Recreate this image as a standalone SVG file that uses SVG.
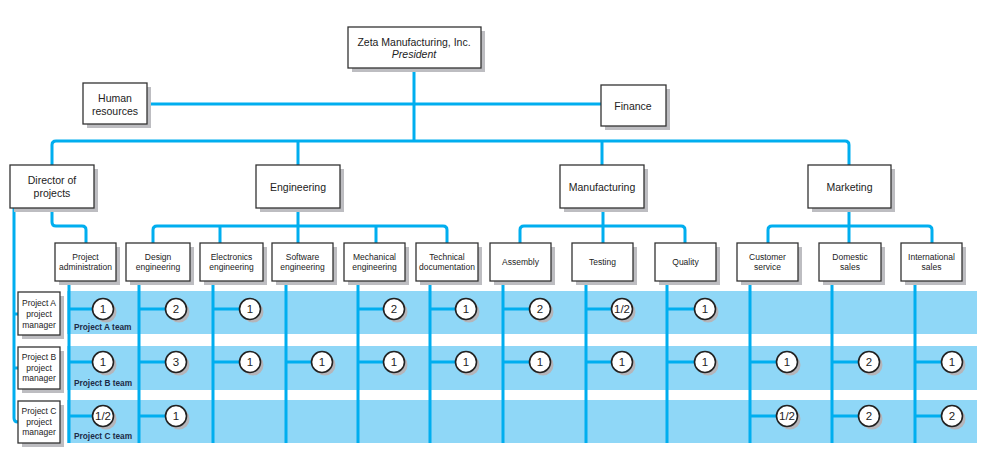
<svg xmlns="http://www.w3.org/2000/svg" width="985" height="469" viewBox="0 0 985 469">
<style>
.bx{fill:#fff;stroke:#333;stroke-width:1.3}
.sh{fill:#bdbdc1}
.ln{fill:none;stroke:#00aeef;stroke-width:3;stroke-linejoin:round}
.band{fill:#8fd7f7}
.t1{font-family:"Liberation Sans",Arial,sans-serif;font-size:10.5px;fill:#222;text-anchor:middle}
.t2{font-family:"Liberation Sans",Arial,sans-serif;font-size:8.5px;fill:#222;text-anchor:middle}
.tm{font-family:"Liberation Sans",Arial,sans-serif;font-size:8.3px;font-weight:bold;fill:#1d2b45}
.cs{fill:#b5b5ba}
.cc{fill:#fff;stroke:#222;stroke-width:1.6}
.ct{font-family:"Liberation Sans",Arial,sans-serif;font-size:11.5px;fill:#222;text-anchor:middle}
</style>
<rect width="985" height="469" fill="#fff"/>
<g id="bands">
<rect class="band" x="67" y="291" width="910" height="43"/>
<rect class="band" x="67" y="346" width="910" height="44"/>
<rect class="band" x="67" y="400" width="910" height="43"/>
</g>
<g id="connectors">
<path class="ln" d="M414 68V141"/>
<path class="ln" d="M147 104H601"/>
<path class="ln" d="M52 165V145Q52 141 56 141H845Q849 141 849 145V165"/>
<path class="ln" d="M298 141V165M602 141V165"/>
<path class="ln" d="M52 208V222Q52 226 56 226H82Q86 226 86 230V243"/>
<path class="ln" d="M14 208V418Q14 422 18 422"/>
<path class="ln" d="M14 314H18M14 368H18"/>
<path class="ln" d="M298 208V243M153 243V230Q153 226 157 226H443Q447 226 447 230V243M220 226V243M376 226V243"/>
<path class="ln" d="M603 208V243M520 243V230Q520 226 524 226H681Q685 226 685 230V243"/>
<path class="ln" d="M849 208V243M768 243V230Q768 226 772 226H928Q932 226 932 230V243"/>
<path class="ln" d="M69 281V443M139 281V443M213 281V443M286 281V443M358 281V443M430 281V443M503 281V443M586 281V443M667 281V443M750 281V443M832 281V443M915 281V443"/>
<path class="ln" d="M69 309H93M139 309H166M213 309H240M358 309H384M430 309H456M503 309H530M586 309H612M667 309H695"/>
<path class="ln" d="M69 362H93M139 362H166M213 362H240M286 362H312M358 362H384M430 362H456M503 362H530M586 362H612M667 362H695M750 362H777M832 362H859M915 362H942"/>
<path class="ln" d="M69 416H93M139 416H166M750 416H777M832 416H859M915 416H942"/>
</g>
<g id="president">
<rect class="sh" x="352" y="31" width="133" height="41"/>
<rect class="bx" x="348" y="27" width="133" height="41"/>
<text class="t1" x="414" y="46">Zeta Manufacturing, Inc.</text>
<text class="t1" x="414" y="58" font-style="italic">President</text>
</g>
<g id="hr">
<rect class="sh" x="87" y="87" width="64" height="41"/>
<rect class="bx" x="83" y="83" width="64" height="41"/>
<text class="t1" x="115" y="102">Human</text>
<text class="t1" x="115" y="115">resources</text>
</g>
<g id="finance">
<rect class="sh" x="605" y="89" width="65" height="41"/>
<rect class="bx" x="601" y="85" width="65" height="41"/>
<text class="t1" x="633" y="110">Finance</text>
</g>
<g id="director">
<rect class="sh" x="14" y="169" width="84" height="43"/>
<rect class="bx" x="10" y="165" width="84" height="43"/>
<text class="t1" x="52" y="184">Director of</text>
<text class="t1" x="52" y="197">projects</text>
</g>
<g id="engineering">
<rect class="sh" x="260" y="169" width="84" height="43"/>
<rect class="bx" x="256" y="165" width="84" height="43"/>
<text class="t1" x="298" y="191">Engineering</text>
</g>
<g id="manufacturing">
<rect class="sh" x="564" y="169" width="84" height="43"/>
<rect class="bx" x="560" y="165" width="84" height="43"/>
<text class="t1" x="602" y="191">Manufacturing</text>
</g>
<g id="marketing">
<rect class="sh" x="812" y="169" width="83" height="43"/>
<rect class="bx" x="808" y="165" width="83" height="43"/>
<text class="t1" x="849.5" y="191">Marketing</text>
</g>
<g id="project-administration">
<rect class="sh" x="59" y="247" width="61" height="38"/>
<rect class="bx" x="55" y="243" width="61" height="38"/>
<text class="t2" x="85.5" y="260">Project</text>
<text class="t2" x="85.5" y="270">administration</text>
</g>
<g id="design-engineering">
<rect class="sh" x="130" y="247" width="64" height="38"/>
<rect class="bx" x="126" y="243" width="64" height="38"/>
<text class="t2" x="158" y="260">Design</text>
<text class="t2" x="158" y="270">engineering</text>
</g>
<g id="electronics-engineering">
<rect class="sh" x="204" y="247" width="63" height="38"/>
<rect class="bx" x="200" y="243" width="63" height="38"/>
<text class="t2" x="231.5" y="260">Electronics</text>
<text class="t2" x="231.5" y="270">engineering</text>
</g>
<g id="software-engineering">
<rect class="sh" x="276" y="247" width="61" height="38"/>
<rect class="bx" x="272" y="243" width="61" height="38"/>
<text class="t2" x="302.5" y="260">Software</text>
<text class="t2" x="302.5" y="270">engineering</text>
</g>
<g id="mechanical-engineering">
<rect class="sh" x="348" y="247" width="61" height="38"/>
<rect class="bx" x="344" y="243" width="61" height="38"/>
<text class="t2" x="374.5" y="260">Mechanical</text>
<text class="t2" x="374.5" y="270">engineering</text>
</g>
<g id="technical-documentation">
<rect class="sh" x="420" y="247" width="62" height="38"/>
<rect class="bx" x="416" y="243" width="62" height="38"/>
<text class="t2" x="447" y="260">Technical</text>
<text class="t2" x="447" y="270">documentation</text>
</g>
<g id="assembly">
<rect class="sh" x="494" y="247" width="61" height="38"/>
<rect class="bx" x="490" y="243" width="61" height="38"/>
<text class="t2" x="520.5" y="265">Assembly</text>
</g>
<g id="testing">
<rect class="sh" x="576" y="247" width="61" height="38"/>
<rect class="bx" x="572" y="243" width="61" height="38"/>
<text class="t2" x="602.5" y="265">Testing</text>
</g>
<g id="quality">
<rect class="sh" x="659" y="247" width="61" height="38"/>
<rect class="bx" x="655" y="243" width="61" height="38"/>
<text class="t2" x="685.5" y="265">Quality</text>
</g>
<g id="customer-service">
<rect class="sh" x="741" y="247" width="61" height="38"/>
<rect class="bx" x="737" y="243" width="61" height="38"/>
<text class="t2" x="767.5" y="260">Customer</text>
<text class="t2" x="767.5" y="270">service</text>
</g>
<g id="domestic-sales">
<rect class="sh" x="823" y="247" width="62" height="38"/>
<rect class="bx" x="819" y="243" width="62" height="38"/>
<text class="t2" x="850" y="260">Domestic</text>
<text class="t2" x="850" y="270">sales</text>
</g>
<g id="international-sales">
<rect class="sh" x="905" y="247" width="61" height="38"/>
<rect class="bx" x="901" y="243" width="61" height="38"/>
<text class="t2" x="931.5" y="260">International</text>
<text class="t2" x="931.5" y="270">sales</text>
</g>
<g id="project-a-manager">
<rect class="sh" x="22" y="296" width="42" height="43"/>
<rect class="bx" x="18" y="292" width="42" height="43"/>
<text class="t2" x="39" y="306">Project A</text>
<text class="t2" x="39" y="317">project</text>
<text class="t2" x="39" y="328">manager</text>
</g>
<g id="project-b-manager">
<rect class="sh" x="22" y="351" width="42" height="42"/>
<rect class="bx" x="18" y="347" width="42" height="42"/>
<text class="t2" x="39" y="360">Project B</text>
<text class="t2" x="39" y="371">project</text>
<text class="t2" x="39" y="381">manager</text>
</g>
<g id="project-c-manager">
<rect class="sh" x="22" y="405" width="42" height="42"/>
<rect class="bx" x="18" y="401" width="42" height="42"/>
<text class="t2" x="39" y="414">Project C</text>
<text class="t2" x="39" y="425">project</text>
<text class="t2" x="39" y="435">manager</text>
</g>
<g id="team-labels">
<text class="tm" x="74" y="330">Project A team</text>
<text class="tm" x="74" y="386">Project B team</text>
<text class="tm" x="74" y="439">Project C team</text>
</g>
<g id="allocations">
<g><circle class="cs" cx="106" cy="312" r="10.5"/><circle class="cc" cx="103" cy="309" r="10.5"/><text class="ct" x="103" y="313">1</text></g>
<g><circle class="cs" cx="179" cy="312" r="10.5"/><circle class="cc" cx="176" cy="309" r="10.5"/><text class="ct" x="176" y="313">2</text></g>
<g><circle class="cs" cx="253" cy="312" r="10.5"/><circle class="cc" cx="250" cy="309" r="10.5"/><text class="ct" x="250" y="313">1</text></g>
<g><circle class="cs" cx="397" cy="312" r="10.5"/><circle class="cc" cx="394" cy="309" r="10.5"/><text class="ct" x="394" y="313">2</text></g>
<g><circle class="cs" cx="469" cy="312" r="10.5"/><circle class="cc" cx="466" cy="309" r="10.5"/><text class="ct" x="466" y="313">1</text></g>
<g><circle class="cs" cx="543" cy="312" r="10.5"/><circle class="cc" cx="540" cy="309" r="10.5"/><text class="ct" x="540" y="313">2</text></g>
<g><circle class="cs" cx="625" cy="312" r="10.5"/><circle class="cc" cx="622" cy="309" r="10.5"/><text class="ct" x="622" y="313">1/2</text></g>
<g><circle class="cs" cx="708" cy="312" r="10.5"/><circle class="cc" cx="705" cy="309" r="10.5"/><text class="ct" x="705" y="313">1</text></g>
<g><circle class="cs" cx="106" cy="365" r="10.5"/><circle class="cc" cx="103" cy="362" r="10.5"/><text class="ct" x="103" y="366">1</text></g>
<g><circle class="cs" cx="179" cy="365" r="10.5"/><circle class="cc" cx="176" cy="362" r="10.5"/><text class="ct" x="176" y="366">3</text></g>
<g><circle class="cs" cx="253" cy="365" r="10.5"/><circle class="cc" cx="250" cy="362" r="10.5"/><text class="ct" x="250" y="366">1</text></g>
<g><circle class="cs" cx="325" cy="365" r="10.5"/><circle class="cc" cx="322" cy="362" r="10.5"/><text class="ct" x="322" y="366">1</text></g>
<g><circle class="cs" cx="397" cy="365" r="10.5"/><circle class="cc" cx="394" cy="362" r="10.5"/><text class="ct" x="394" y="366">1</text></g>
<g><circle class="cs" cx="469" cy="365" r="10.5"/><circle class="cc" cx="466" cy="362" r="10.5"/><text class="ct" x="466" y="366">1</text></g>
<g><circle class="cs" cx="543" cy="365" r="10.5"/><circle class="cc" cx="540" cy="362" r="10.5"/><text class="ct" x="540" y="366">1</text></g>
<g><circle class="cs" cx="625" cy="365" r="10.5"/><circle class="cc" cx="622" cy="362" r="10.5"/><text class="ct" x="622" y="366">1</text></g>
<g><circle class="cs" cx="708" cy="365" r="10.5"/><circle class="cc" cx="705" cy="362" r="10.5"/><text class="ct" x="705" y="366">1</text></g>
<g><circle class="cs" cx="790" cy="365" r="10.5"/><circle class="cc" cx="787" cy="362" r="10.5"/><text class="ct" x="787" y="366">1</text></g>
<g><circle class="cs" cx="872" cy="365" r="10.5"/><circle class="cc" cx="869" cy="362" r="10.5"/><text class="ct" x="869" y="366">2</text></g>
<g><circle class="cs" cx="955" cy="365" r="10.5"/><circle class="cc" cx="952" cy="362" r="10.5"/><text class="ct" x="952" y="366">1</text></g>
<g><circle class="cs" cx="106" cy="419" r="10.5"/><circle class="cc" cx="103" cy="416" r="10.5"/><text class="ct" x="103" y="420">1/2</text></g>
<g><circle class="cs" cx="179" cy="419" r="10.5"/><circle class="cc" cx="176" cy="416" r="10.5"/><text class="ct" x="176" y="420">1</text></g>
<g><circle class="cs" cx="790" cy="419" r="10.5"/><circle class="cc" cx="787" cy="416" r="10.5"/><text class="ct" x="787" y="420">1/2</text></g>
<g><circle class="cs" cx="872" cy="419" r="10.5"/><circle class="cc" cx="869" cy="416" r="10.5"/><text class="ct" x="869" y="420">2</text></g>
<g><circle class="cs" cx="955" cy="419" r="10.5"/><circle class="cc" cx="952" cy="416" r="10.5"/><text class="ct" x="952" y="420">2</text></g>
</g>
</svg>
